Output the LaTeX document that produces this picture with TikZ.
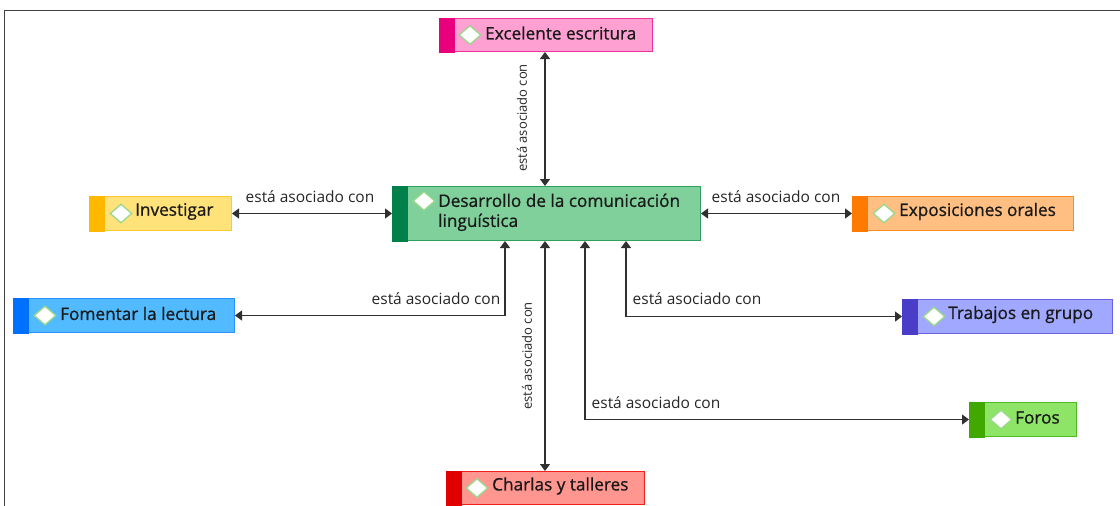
\documentclass[tikz,border=0pt]{standalone}
\usepackage{fontspec}
\setmainfont{Open Sans}
\newfontfamily\nodefont[FakeBold=0.8]{Open Sans}
\usetikzlibrary{arrows.meta,shapes.geometric}
\definecolor{exfill}{HTML}{FFA0D2}\definecolor{exstrip}{HTML}{E8007C}\definecolor{exline}{HTML}{F0309A}
\definecolor{cefill}{HTML}{80D09C}\definecolor{cestrip}{HTML}{00804A}\definecolor{celine}{HTML}{30A060}
\definecolor{infill}{HTML}{FFE27A}\definecolor{instrip}{HTML}{FFB800}\definecolor{inline}{HTML}{FFC830}
\definecolor{eofill}{HTML}{FFBE82}\definecolor{eostrip}{HTML}{FF7A00}\definecolor{eoline}{HTML}{FF8C20}
\definecolor{fofill}{HTML}{52BAFF}\definecolor{fostrip}{HTML}{0070FF}\definecolor{foline}{HTML}{2A90FF}
\definecolor{trfill}{HTML}{A0A8FF}\definecolor{trstrip}{HTML}{4A3EC8}\definecolor{trline}{HTML}{6A62E0}
\definecolor{frfill}{HTML}{8EE466}\definecolor{frstrip}{HTML}{40A800}\definecolor{frline}{HTML}{50B820}
\definecolor{chfill}{HTML}{FF9690}\definecolor{chstrip}{HTML}{E00000}\definecolor{chline}{HTML}{F02020}
\definecolor{diamline}{HTML}{9AD88A}
\definecolor{connc}{HTML}{303030}
\tikzset{
  conceptbox/.style={rectangle, line width=1pt, inner sep=0pt},
  diam/.style={diamond, draw=diamline, fill=white, line width=1.3pt, minimum width=22pt, minimum height=19pt, inner sep=0pt},
  ctext/.style={font=\nodefont\fontsize{17.2}{20}\selectfont, text=black!90, inner sep=0pt, align=left},
  conn/.style={draw=connc, line width=1.3pt, {Triangle[width=10pt,length=7pt]}-{Triangle[width=10pt,length=7pt]}},
  clabel/.style={font=\fontsize{15.5}{17}\selectfont, text=black!85, inner sep=0pt},
  vlabel/.style={font=\fontsize{13}{15}\selectfont, text=black!85, inner sep=0pt, rotate=90},
}
\newcommand\concept[7]{%
  \node[conceptbox, draw=#6line, fill=#6fill, minimum width=#4pt, minimum height=#5pt, anchor=north west] (#1) at (#2,#3) {};
  \fill[#6strip] ([shift={(-0.5pt,0.5pt)}]#1.north west) rectangle ([shift={(16pt,-0.5pt)}]#1.south west);
}
\begin{document}
\begin{tikzpicture}[x=1pt,y=-1pt]
\useasboundingbox (0,0) rectangle (1120,506);
\draw[line width=1pt, black!75] (4,506) -- (4,10) -- (1120,10);

\concept{ex}{439}{18}{213}{33}{ex}{}
\node[diam] (exd) at ([xshift=31pt]ex.west) {};
\node[ctext, anchor=west] (ext) at ([shift={(46pt,2pt)}]ex.west) {Excelente escritura};

\concept{ce}{392}{186}{308}{54}{ce}{}
\node[diam] (ced) at ([shift={(32pt,-15pt)}]ce.north west) {};
\node[ctext, anchor=north west] (cet) at ([shift={(46pt,-7.5pt)}]ce.north west) {Desarrollo de la comunicación\\linguística};

\concept{inv}{89}{196}{142}{34}{in}{}
\node[diam] (invd) at ([xshift=32pt]inv.west) {};
\node[ctext, anchor=west] (invt) at ([shift={(46pt,2pt)}]inv.west) {Investigar};

\concept{eo}{852}{196}{221}{34}{eo}{}
\node[diam] (eod) at ([xshift=32pt]eo.west) {};
\node[ctext, anchor=west] (eot) at ([shift={(47pt,2pt)}]eo.west) {Exposiciones orales};

\concept{fo}{13}{298}{221}{34}{fo}{}
\node[diam] (fod) at ([xshift=32pt]fo.west) {};
\node[ctext, anchor=west] (fot) at ([shift={(47pt,2pt)}]fo.west) {Fomentar la lectura};

\concept{tr}{902}{299}{210}{34}{tr}{}
\node[diam] (trd) at ([xshift=32pt]tr.west) {};
\node[ctext, anchor=west] (trt) at ([shift={(46pt,2pt)}]tr.west) {Trabajos en grupo};

\concept{fr}{969}{402}{107}{34}{fr}{}
\node[diam] (frd) at ([xshift=32pt]fr.west) {};
\node[ctext, anchor=west] (frt) at ([shift={(46pt,2pt)}]fr.west) {Foros};

\concept{ch}{446}{471}{198}{33}{ch}{}
\node[diam] (chd) at ([xshift=31pt]ch.west) {};
\node[ctext, anchor=west] (cht) at ([shift={(46pt,2pt)}]ch.west) {Charlas y talleres};

% connectors
\coordinate (top) at ([xshift=153pt]ce.north west);
\draw[conn] (top |- ex.south) -- (top);
\node[vlabel] (l1) at (522,118) {está asociado con};

\draw[conn] (inv.east) -- (ce.west |- inv.east);
\node[clabel] (l2) at (310,197) {está asociado con};

\draw[conn] (eo.west) -- (ce.east |- eo.west);
\node[clabel] (l3) at (776,197) {está asociado con};

\coordinate (b1) at ([xshift=113pt]ce.south west);
\coordinate (b2) at ([xshift=153pt]ce.south west);
\coordinate (b3) at ([xshift=193pt]ce.south west);
\coordinate (b4) at ([xshift=234pt]ce.south west);

\draw[conn] (b1) |- (fo.east);
\node[clabel] (l4) at (436,299) {está asociado con};

\draw[conn] (b2) -- (b2 |- ch.north);
\node[vlabel] (l5) at (527,356) {está asociado con};

\draw[conn] (b3) |- (fr.west);
\node[clabel] (l6) at (656,403) {está asociado con};

\draw[conn] (b4) |- (tr.west);
\node[clabel] (l7) at (697,299) {está asociado con};
\end{tikzpicture}
\end{document}
